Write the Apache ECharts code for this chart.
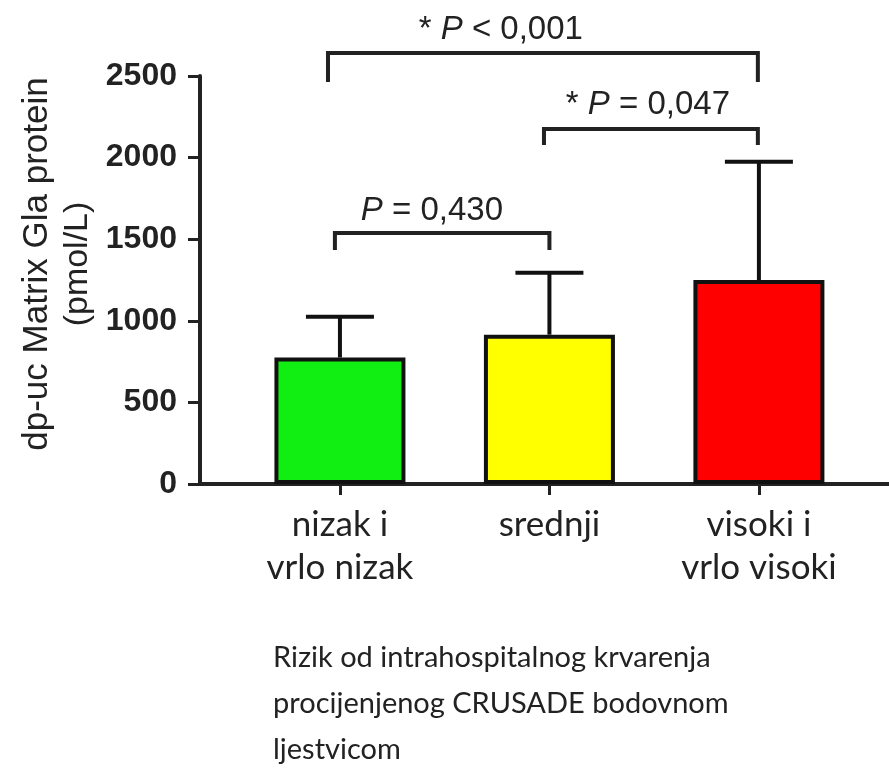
<!DOCTYPE html>
<html>
<head>
<meta charset="utf-8">
<script src="https://cdn.jsdelivr.net/npm/echarts@6/dist/echarts.min.js"></script>
<style>
  html, body { margin: 0; padding: 0; background: #fff; }
  #chart { width: 889px; height: 769px; }
</style>
</head>
<body>
<div id="chart"></div>
<script>
// kategorije i vrijednosti
var categories = ['nizak i\nvrlo nizak', 'srednji', 'visoki i\nvrlo visoki'];
var catPos = [0, 1, 2];
var means = [775, 915, 1250];
var upper = [1025, 1295, 1975];
var barColors = ['#11ee11', '#ffff00', '#ff0000'];

// zagrade znacajnosti: [x1, x2, y, yNoge]
var brackets = [
	[-0.057, 1.995, 2641, 2463],
	[0.974, 1.995, 2175, 2077],
	[-0.024, 1.0, 1538, 1434]
];
var pLabels = [
	'{n|* }{i|P}{n| < 0,001}',
	'{n|* }{i|P}{n| = 0,047}',
	'{i|P}{n| = 0,430}'
];
var pLabelPos = [[0.768, 2782], [1.47, 2322], [0.439, 1673]];

(function () {
	var myChart = echarts.init(document.getElementById('chart'));
	var ink = '#222';

	var barData = catPos.map(function (x, i) {
		return { value: [x, means[i]], itemStyle: { color: barColors[i] } };
	});
	var errData = catPos.map(function (x, i) {
		return [x, means[i], upper[i]];
	});
	var bracketData = brackets.map(function (b, i) {
		return [b[0], b[1], b[2], b[3], pLabelPos[i][0], pLabelPos[i][1], i];
	});

	var option = {
		animation: false,
		title: {
			text: 'Rizik od intrahospitalnog krvarenja\nprocijenjenog CRUSADE bodovnom\nljestvicom',
			left: 268,
			top: 630,
			textStyle: {
				fontFamily: 'Lato',
				fontWeight: 'normal',
				fontSize: 29,
				lineHeight: 46,
				color: ink
			}
		},
		grid: {
			left: 200,
			right: 0,
			top: 76,
			bottom: 285
		},
		xAxis: {
			type: 'value',
			min: -0.668,
			max: 2.621,
			splitLine: { show: false },
			axisLine: { lineStyle: { color: ink, width: 4 } },
			axisTick: {
				customValues: catPos,
				length: 11,
				lineStyle: { color: ink, width: 3 }
			},
			axisLabel: {
				customValues: catPos,
				margin: 19,
				formatter: function (v) {
					return categories[Math.round(v)];
				},
				fontFamily: 'Lato',
				fontSize: 35,
				lineHeight: 43,
				color: ink,
				align: 'center'
			}
		},
		yAxis: {
			type: 'value',
			min: 0,
			max: 2500,
			interval: 500,
			name: '{a|dp-uc Matrix Gla protein}\n{b|(pmol/L)}',
			nameLocation: 'middle',
			nameGap: 90,
			nameTextStyle: {
				align: 'center',
				padding: [0, 0, 0, 32],
				rich: {
					a: { fontFamily: 'Liberation Sans', fontSize: 35, color: ink, lineHeight: 42 },
					b: { fontFamily: 'Liberation Sans', fontSize: 34, color: ink, lineHeight: 40 }
				}
			},
			splitLine: { show: false },
			axisLine: { show: true, onZero: false, lineStyle: { color: ink, width: 4 } },
			axisTick: { show: true, length: 12, lineStyle: { color: ink, width: 3 } },
			axisLabel: {
				margin: 23,
				formatter: function (v) {
					return String(v);
				},
				fontFamily: 'Liberation Sans',
				fontWeight: 'bold',
				fontSize: 32,
				color: ink
			}
		},
		series: [
			{
				type: 'bar',
				barWidth: 131,
				data: barData,
				itemStyle: { borderColor: '#111', borderWidth: 4 },
				z: 2
			},
			{
				type: 'custom',
				data: errData,
				z: 3,
				renderItem: function (params, api) {
					var base = api.coord([api.value(0), api.value(1)]);
					var top = api.coord([api.value(0), api.value(2)]);
					var st = { stroke: '#111', lineWidth: 4 };
					return {
						type: 'group',
						children: [
							{ type: 'line', shape: { x1: base[0], y1: base[1], x2: top[0], y2: top[1] }, style: st },
							{ type: 'line', shape: { x1: top[0] - 34, y1: top[1], x2: top[0] + 34, y2: top[1] }, style: st }
						]
					};
				}
			},
			{
				type: 'custom',
				data: bracketData,
				clip: false,
				z: 4,
				renderItem: function (params, api) {
					var a = api.coord([api.value(0), api.value(2)]);
					var b = api.coord([api.value(1), api.value(2)]);
					var la = api.coord([api.value(0), api.value(3)]);
					var lb = api.coord([api.value(1), api.value(3)]);
					var t = api.coord([api.value(4), api.value(5)]);
					var st = { stroke: '#222', lineWidth: 4, fill: null };
					return {
						type: 'group',
						children: [
							{
								type: 'polyline',
								shape: { points: [la, a, b, lb] },
								style: st
							},
							{
								type: 'text',
								x: t[0],
								y: t[1],
								style: {
									text: pLabels[api.value(6)],
									align: 'center',
									verticalAlign: 'middle',
									rich: {
										n: { fontFamily: 'Liberation Sans', fontSize: 33, fill: ink },
										i: { fontFamily: 'Liberation Sans', fontStyle: 'italic', fontSize: 33, fill: ink }
									}
								}
							}
						]
					};
				}
			}
		]
	};
	myChart.setOption(option);
	window.addEventListener('resize', function () {
		myChart.resize();
	});
})();
</script>
</body>
</html>
